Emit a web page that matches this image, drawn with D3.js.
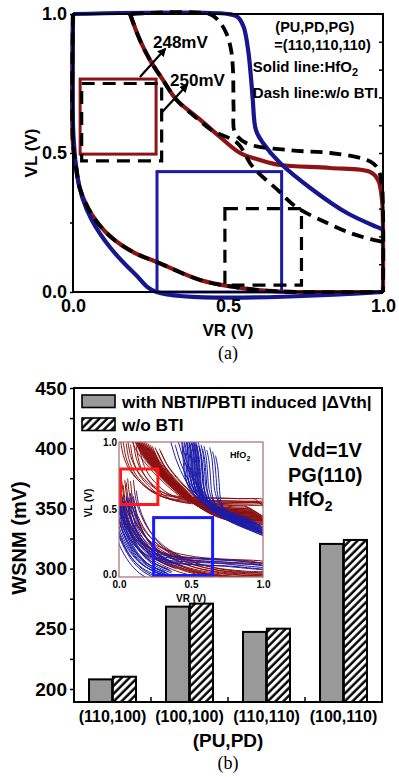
<!DOCTYPE html>
<html>
<head>
<meta charset="utf-8">
<script src="https://cdnjs.cloudflare.com/ajax/libs/d3/7.8.5/d3.min.js"></script>
<style>
  body { margin: 0; background: #fff; }
  svg text { font-family: 'Liberation Sans', Arial, sans-serif; font-weight: bold; fill: #000; }
  svg text.caption { font-family: 'Liberation Serif', 'Times New Roman', serif; font-weight: normal; }
</style>
</head>
<body>
<svg id="chart" width="399" height="777"></svg>
<script>
// ---------- (a) butterfly curves, points are [VR, VL] ----------
const redSolidUpper = [[0.184,1.0],[0.216,0.906],[0.248,0.835],[0.29,0.763],[0.335,0.69],[0.41,0.62],[0.474,0.558],[0.539,0.50],[0.603,0.475],[0.668,0.457],[0.829,0.446],[0.958,0.432],[0.984,0.403],[0.997,0.33],[1.0,0.2],[1.0,0]];
const redSolidLower = [[0,1.0],[0,0.53],[0.01,0.45],[0.023,0.37],[0.06,0.28],[0.12,0.2],[0.2,0.14],[0.27,0.108],[0.41,0.043],[0.52,0.018],[0.63,0.004],[0.72,0],[1.0,0]];
const blueSolidUpper = [[0,1.0],[0.5,1.0],[0.53,0.99],[0.55,0.955],[0.565,0.87],[0.575,0.76],[0.58,0.69],[0.59,0.583],[0.613,0.536],[0.668,0.464],[0.774,0.367],[0.884,0.284],[0.98,0.234],[1.0,0.225]];
const blueSolidLower = [[0,1.0],[0,0.6],[0.004,0.52],[0.013,0.42],[0.03,0.34],[0.06,0.26],[0.12,0.16],[0.2,0.065],[0.27,0],[1.0,0]];
const dashUpperA = [[0.19,1.0],[0.44,1.0],[0.47,0.975],[0.495,0.93],[0.51,0.87],[0.516,0.8],[0.518,0.66],[0.522,0.575],[0.56,0.535],[0.7,0.51],[0.83,0.5],[0.948,0.475],[0.98,0.45],[0.995,0.4],[1.0,0.3],[1.0,0]];
const dashUpperB = [[0.184,1.0],[0.216,0.906],[0.248,0.835],[0.29,0.763],[0.335,0.69],[0.41,0.615],[0.45,0.58],[0.53,0.536],[0.58,0.45],[0.66,0.367],[0.72,0.306],[0.82,0.248],[0.9,0.21],[0.96,0.19],[1.0,0.18]];
const dashLower = redSolidLower;

// squares as [VR0, VL0, VR1, VL1]
const redSquare = [0.023, 0.496, 0.268, 0.766];
const blueSquare = [0.271, 0, 0.673, 0.433];
const dashSquares = [[0.028, 0.472, 0.286, 0.75], [0.49, 0.025, 0.737, 0.30]];

// margin annotations: label, label anchor, arrow tail -> head
const marginNotes = [
  {label: '248mV', at: [0.258, 0.878], arrow: [[0.216, 0.773], [0.297, 0.874]]},
  {label: '250mV', at: [0.313, 0.741], arrow: [[0.287, 0.647], [0.368, 0.745]]}
];

// ---------- (b) WSNM bars ----------
const groups = ['(110,100)', '(100,100)', '(110,110)', '(100,110)'];
const series = ['with', 'without'];
const wsnmWithBTI = [208.0, 268.4, 247.4, 320.5];
const wsnmWithoutBTI = [210.2, 270.9, 250.1, 323.8];
const wsnmTicks = [200, 225, 250, 275, 300, 325, 350, 375, 400, 425, 450];

// ---------- (b) inset Monte Carlo butterflies: base curve + per-instance shift [dVR, dVL] ----------
const insetRedUpper = [[0.17,1.0],[0.22,0.89],[0.3,0.78],[0.4,0.67],[0.5,0.58],[0.6,0.52],[0.7,0.49],[0.85,0.47],[0.97,0.46],[1.0,0.43]];
const insetRedUpperShift = [[-0.07,0.04],[-0.065,0.02],[-0.06,0.05],[-0.055,0.03],[-0.05,0.01],[-0.045,0.04],[-0.04,0.02],[-0.035,0.0],[-0.03,0.03],[-0.025,0.01],[-0.02,-0.01],[-0.015,0.02],[-0.01,0.0],[-0.005,-0.02],[0,0.01],[0.005,-0.01],[0.01,-0.03],[0.015,0.0],[0.02,-0.02],[0.025,-0.04],[0.03,-0.01],[0.035,-0.03],[0.04,-0.05],[0.045,-0.02],[0.05,-0.04],[0.055,-0.06],[0.06,-0.03],[0.065,-0.05],[0.07,-0.07],[0.08,-0.04],[0.09,-0.06],[0.1,-0.08],[0.11,-0.05],[0.12,-0.07],[-0.08,0.06],[-0.09,0.03]];
const insetRedBox = [[0.03,1.0],[0.05,0.88],[0.09,0.78],[0.15,0.7],[0.23,0.63],[0.32,0.59],[0.45,0.57],[0.65,0.565],[0.85,0.56],[0.97,0.555],[1.0,0.52]];
const insetRedBoxShift = [[-0.02,0.02],[0,0],[0.02,-0.01],[0.03,0.02],[0.05,-0.02],[0.07,0.0],[0.09,-0.03],[0.11,-0.01]];
const insetRedLower = [[0,0.7],[0.02,0.54],[0.06,0.42],[0.12,0.31],[0.2,0.22],[0.3,0.15],[0.45,0.08],[0.6,0.04],[0.8,0.015],[1.0,0.008]];
const insetRedLowerShift = [[-0.04,-0.04],[-0.03,-0.01],[-0.02,-0.02],[-0.01,-0.03],[0,0],[0.005,-0.02],[0.01,-0.01],[0.02,0.01],[0.03,-0.02],[0.04,0.02],[0.05,0.0],[0.06,0.03],[0.08,0.01],[0.1,0.02]];
const insetRedTail = [[0,0.62],[0.04,0.42],[0.12,0.28],[0.25,0.2],[0.45,0.15],[0.7,0.13],[0.9,0.12],[1.0,0.1]];
const insetRedTailShift = [[0,0],[0.03,-0.02],[0.06,-0.03],[0.08,0.0]];
const insetBlueUpper = [[0.52,1.0],[0.535,0.92],[0.545,0.8],[0.555,0.68],[0.58,0.6],[0.63,0.54],[0.72,0.47],[0.84,0.41],[0.95,0.37],[1.0,0.35]];
const insetBlueUpperShift = [[-0.1,0.08],[-0.09,0.05],[-0.08,0.06],[-0.07,0.03],[-0.065,0.07],[-0.06,0.05],[-0.05,0.02],[-0.045,0.05],[-0.04,0.04],[-0.035,0.01],[-0.03,0.0],[-0.025,0.03],[-0.02,0.03],[-0.015,-0.01],[-0.01,0.01],[-0.005,0.02],[0,0],[0,-0.03],[0.005,0.01],[0.01,0.02],[0.015,-0.02],[0.02,-0.02],[0.03,0.0],[0.035,-0.03],[0.04,-0.04],[0.05,-0.02],[0.06,-0.05],[0.07,-0.03],[0.09,-0.06],[0.11,-0.04],[0.13,-0.07],[0.15,-0.1]];
const insetBlueDiag = [[0.36,1.0],[0.4,0.86],[0.46,0.72],[0.54,0.59],[0.64,0.49],[0.78,0.41],[0.92,0.35],[1.0,0.32]];
const insetBlueDiagShift = [[0,0],[0.03,-0.02],[0.05,0.01],[0.08,-0.03]];
const insetBlueLower = [[0,0.5],[0.02,0.38],[0.06,0.27],[0.12,0.16],[0.19,0.08],[0.27,0.03],[0.34,0]];
const insetBlueLowerShift = [[-0.05,-0.05],[-0.045,0.0],[-0.04,0.02],[-0.035,-0.03],[-0.03,-0.02],[-0.025,0.01],[-0.02,0.04],[-0.015,0.02],[-0.01,0],[-0.005,0.03],[0,0.06],[0.005,0.01],[0.01,0.02],[0.015,0.05],[0.02,0.08],[0.025,0.03],[0.03,0.04],[0.04,0.07],[0.05,0.1],[0.06,0.06],[0.07,0.09],[0.08,0.12],[0.1,0.08],[0.12,0.14]];
const insetBlueTail = [[0,0.58],[0.04,0.38],[0.1,0.25],[0.18,0.17],[0.3,0.13],[0.5,0.11],[0.7,0.1],[0.85,0.085],[1.0,0.07]];
const insetBlueTailShift = [[0,0],[0.02,0.03],[0.03,-0.02],[0.05,0.01],[0.08,-0.02],[0.1,0.02]];
const insetRedBoxRect = [0.0, 0.526, 0.27, 0.8];
const insetBlueBoxRect = [0.23, 0, 0.65, 0.44];

const DARK_RED = '#8e1414';
const NAVY = '#16168f';

const svg = d3.select('#chart');

// ======================= (a) =======================
const plotA = {left: 73, right: 383, top: 14, bottom: 292};
const xA = d3.scaleLinear().domain([0, 1]).range([plotA.left, plotA.right]);
const yA = d3.scaleLinear().domain([0, 1]).range([plotA.bottom, plotA.top]);
const lineA = d3.line().x(d => xA(d[0])).y(d => yA(d[1])).curve(d3.curveCatmullRom.alpha(0.5));

const gA = svg.append('g').attr('class', 'panel-a');

const sq = (g, r) => g.append('rect')
  .attr('x', xA(r[0])).attr('y', yA(r[3]))
  .attr('width', xA(r[2]) - xA(r[0])).attr('height', yA(r[1]) - yA(r[3]))
  .attr('fill', 'none');

// solid curves
[[redSolidUpper, DARK_RED], [redSolidLower, DARK_RED], [blueSolidUpper, NAVY], [blueSolidLower, NAVY]]
  .forEach(([pts, c]) => {
    gA.append('path').datum(pts)
      .attr('d', lineA)
      .attr('fill', 'none')
      .attr('stroke', c)
      .attr('stroke-width', 4.2)
      .attr('stroke-linejoin', 'round');
  });

sq(gA, redSquare).attr('stroke', DARK_RED).attr('stroke-width', 3);
sq(gA, blueSquare).attr('stroke', '#1a1aa6').attr('stroke-width', 3);

// dashed (w/o BTI) curves
[dashUpperA, dashUpperB, dashLower].forEach(pts => {
  gA.append('path').datum(pts)
    .attr('d', lineA)
    .attr('fill', 'none')
    .attr('stroke', '#000')
    .attr('stroke-width', 3.8)
    .attr('stroke-dasharray', '12,7');
});
dashSquares.forEach(r => {
  sq(gA, r).attr('stroke', '#000').attr('stroke-width', 3.2).attr('stroke-dasharray', '13,8');
});

// arrow marker
svg.append('defs').append('marker')
  .attr('id', 'arrowhead')
  .attr('viewBox', '0 0 10 10')
  .attr('refX', 8).attr('refY', 5)
  .attr('markerWidth', 4).attr('markerHeight', 4)
  .attr('orient', 'auto')
  .append('path').attr('d', 'M0,0 L10,5 L0,10 z').attr('fill', '#000');

marginNotes.forEach(n => {
  gA.append('line')
    .attr('x1', xA(n.arrow[0][0])).attr('y1', yA(n.arrow[0][1]))
    .attr('x2', xA(n.arrow[1][0])).attr('y2', yA(n.arrow[1][1]))
    .attr('stroke', '#000').attr('stroke-width', 2.2)
    .attr('marker-end', 'url(#arrowhead)');
  gA.append('text')
    .attr('x', xA(n.at[0])).attr('y', yA(n.at[1]))
    .style('font-size', '17px')
    .text(n.label);
});

// frame + axes
gA.append('rect')
  .attr('x', plotA.left).attr('y', plotA.top)
  .attr('width', plotA.right - plotA.left).attr('height', plotA.bottom - plotA.top)
  .attr('fill', 'none').attr('stroke', '#000').attr('stroke-width', 2);

const fmt1 = d3.format('.1f');
const axLeftA = gA.append('g')
  .attr('transform', `translate(${plotA.left},0)`)
  .call(d3.axisLeft(yA).tickValues([0, 0.25, 0.5, 0.75, 1]).tickSize(3).tickPadding(3)
    .tickFormat(d => (d * 2) % 1 === 0 ? fmt1(d) : ''));
const axRightA = gA.append('g')
  .attr('transform', `translate(${plotA.right},0)`)
  .call(d3.axisRight(yA).tickValues(d3.range(1, 10).map(i => i / 10)).tickSize(-4).tickFormat(''));
const axBottomA = gA.append('g')
  .attr('transform', `translate(0,${plotA.bottom})`)
  .call(d3.axisBottom(xA).tickValues([0, 0.5, 1]).tickSize(0).tickPadding(7).tickFormat(fmt1));
[axLeftA, axRightA, axBottomA].forEach(a => {
  a.select('.domain').remove();
  a.selectAll('line').attr('stroke-width', 1.5);
  a.selectAll('text').style('font-size', '18px');
  a.attr('font-family', null).attr('font-size', null);
});

gA.append('text')
  .attr('transform', `translate(37,${(plotA.top + plotA.bottom) / 2}) rotate(-90)`)
  .attr('text-anchor', 'middle')
  .style('font-size', '17px')
  .text('VL (V)');
gA.append('text')
  .attr('x', (plotA.left + plotA.right) / 2).attr('y', 336)
  .attr('text-anchor', 'middle')
  .style('font-size', '17px')
  .text('VR (V)');
gA.append('text').attr('class', 'caption')
  .attr('x', (plotA.left + plotA.right) / 2).attr('y', 359)
  .attr('text-anchor', 'middle')
  .style('font-size', '18px')
  .text('(a)');

// legend text block
gA.append('text').attr('x', xA(0.78)).attr('y', yA(0.935)).attr('text-anchor', 'middle')
  .style('font-size', '14.5px').text('(PU,PD,PG)');
gA.append('text').attr('x', xA(0.805)).attr('y', yA(0.87)).attr('text-anchor', 'middle')
  .style('font-size', '14.5px').text('=(110,110,110)');
const solidTxt = gA.append('text').attr('x', xA(0.58)).attr('y', yA(0.79)).style('font-size', '15px');
solidTxt.append('tspan').text('Solid line:HfO');
solidTxt.append('tspan').attr('dy', 4).style('font-size', '11px').text('2');
gA.append('text').attr('x', xA(0.58)).attr('y', yA(0.698)).style('font-size', '15px')
  .text('Dash line:w/o BTI');

// ======================= (b) =======================
const plotB = {left: 74, right: 382, top: 388, bottom: 702};
const x0 = d3.scaleBand().domain(groups).range([plotB.left, plotB.right]).padding(0);
const x1 = d3.scaleBand().domain(series)
  .range([x0.bandwidth() * 0.195, x0.bandwidth() * 0.805]).paddingInner(0.03);
const yB = d3.scaleLinear().domain([189.2, 450]).range([plotB.bottom, plotB.top]);

const gB = svg.append('g').attr('class', 'panel-b');

const defs = svg.select('defs');
const hatch = defs.append('pattern')
  .attr('id', 'hatch')
  .attr('patternUnits', 'userSpaceOnUse')
  .attr('width', 5.5).attr('height', 5.5)
  .attr('patternTransform', 'rotate(45)');
hatch.append('rect').attr('width', 5.5).attr('height', 5.5).attr('fill', '#fff');
hatch.append('line').attr('x1', 1.5).attr('y1', 0).attr('x2', 1.5).attr('y2', 5.5)
  .attr('stroke', '#000').attr('stroke-width', 2.4);

const barRows = groups.map((g, i) => ({group: g, values: [
  {key: 'with', v: wsnmWithBTI[i]},
  {key: 'without', v: wsnmWithoutBTI[i]}
]}));

gB.selectAll('g.grp')
  .data(barRows)
  .enter().append('g')
    .attr('class', 'grp')
    .attr('transform', d => `translate(${x0(d.group)},0)`)
  .selectAll('rect')
  .data(d => d.values)
  .enter().append('rect')
    .attr('x', d => x1(d.key))
    .attr('y', d => yB(d.v))
    .attr('width', x1.bandwidth())
    .attr('height', d => plotB.bottom - yB(d.v))
    .attr('fill', d => d.key === 'with' ? '#999' : 'url(#hatch)')
    .attr('stroke', '#000')
    .attr('stroke-width', 2);

gB.append('rect')
  .attr('x', plotB.left).attr('y', plotB.top)
  .attr('width', plotB.right - plotB.left).attr('height', plotB.bottom - plotB.top)
  .attr('fill', 'none').attr('stroke', '#000').attr('stroke-width', 2);

const axLeftB = gB.append('g')
  .attr('transform', `translate(${plotB.left},0)`)
  .call(d3.axisLeft(yB).tickValues(wsnmTicks).tickSize(4).tickPadding(3)
    .tickFormat(d => d % 50 === 0 ? d : ''));
const axBottomB = gB.append('g')
  .attr('transform', `translate(0,${plotB.bottom})`)
  .call(d3.axisBottom(x0).tickSize(0).tickPadding(9));
// group boundary ticks
gB.append('g')
  .selectAll('line')
  .data(groups.slice(1))
  .enter().append('line')
    .attr('x1', d => x0(d)).attr('x2', d => x0(d))
    .attr('y1', plotB.bottom).attr('y2', plotB.bottom - 5)
    .attr('stroke', '#000').attr('stroke-width', 1.5);
[axLeftB, axBottomB].forEach(a => {
  a.select('.domain').remove();
  a.selectAll('line').attr('stroke-width', 1.5);
  a.attr('font-family', null).attr('font-size', null);
});
axLeftB.selectAll('text').style('font-size', '19px');
axBottomB.selectAll('text').style('font-size', '16px');

gB.append('text')
  .attr('transform', `translate(26,538) rotate(-90)`)
  .attr('text-anchor', 'middle')
  .style('font-size', '20px')
  .text('WSNM (mV)');
gB.append('text')
  .attr('x', (plotB.left + plotB.right) / 2).attr('y', 747)
  .attr('text-anchor', 'middle')
  .style('font-size', '19px')
  .text('(PU,PD)');
gB.append('text').attr('class', 'caption')
  .attr('x', (plotB.left + plotB.right) / 2).attr('y', 769)
  .attr('text-anchor', 'middle')
  .style('font-size', '18px')
  .text('(b)');

// legend
const legendRows = [
  {fill: '#999', label: 'with NBTI/PBTI induced |\u0394Vth|'},
  {fill: 'url(#hatch)', label: 'w/o BTI'}
];
const lg = gB.append('g').attr('transform', 'translate(82,395)');
lg.selectAll('rect')
  .data(legendRows)
  .enter().append('rect')
    .attr('x', 0).attr('y', (d, i) => i * 23)
    .attr('width', 33).attr('height', 12.5)
    .attr('fill', d => d.fill)
    .attr('stroke', '#000').attr('stroke-width', 1.6);
lg.selectAll('text')
  .data(legendRows)
  .enter().append('text')
    .attr('x', 40).attr('y', (d, i) => 13 + i * 23)
    .style('font-size', '17.3px')
    .text(d => d.label);

// conditions text
const cond = gB.append('g').attr('transform', 'translate(288,0)');
cond.append('text').attr('y', 457).style('font-size', '20px').text('Vdd=1V');
cond.append('text').attr('y', 482).style('font-size', '20px').text('PG(110)');
const hf = cond.append('text').attr('y', 506).style('font-size', '20px');
hf.append('tspan').text('HfO');
hf.append('tspan').attr('dy', 5).style('font-size', '14px').text('2');

// ---------- inset ----------
const plotI = {left: 119, right: 263, top: 442, bottom: 577};
const xI = d3.scaleLinear().domain([0, 1]).range([plotI.left, plotI.right]);
const yI = d3.scaleLinear().domain([0, 1]).range([plotI.bottom, plotI.top]);
const lineI = d3.line().x(d => xI(d[0])).y(d => yI(d[1])).curve(d3.curveCatmullRom.alpha(0.5));

const gI = svg.append('g').attr('class', 'inset');
gI.append('rect')
  .attr('x', plotI.left).attr('y', plotI.top)
  .attr('width', plotI.right - plotI.left).attr('height', plotI.bottom - plotI.top)
  .attr('fill', '#fff');
defs.append('clipPath').attr('id', 'inset-clip')
  .append('rect')
  .attr('x', plotI.left).attr('y', plotI.top)
  .attr('width', plotI.right - plotI.left).attr('height', plotI.bottom - plotI.top);

const curvesI = gI.append('g').attr('clip-path', 'url(#inset-clip)');
const family = (base, shifts, color) => {
  curvesI.append('g')
    .selectAll('path')
    .data(shifts.map(s => base.map(p => [p[0] + s[0], p[1] + s[1]])))
    .enter().append('path')
      .attr('d', lineI)
      .attr('fill', 'none')
      .attr('stroke', color)
      .attr('stroke-width', 1);
};
family(insetRedLower, insetRedLowerShift, '#8c0f0f');
family(insetRedTail, insetRedTailShift, '#8c0f0f');
family(insetBlueLower, insetBlueLowerShift, '#1c1ca8');
family(insetBlueTail, insetBlueTailShift, '#1c1ca8');
family(insetRedUpper, insetRedUpperShift, '#8c0f0f');
family(insetRedBox, insetRedBoxShift, '#8c0f0f');
family(insetBlueUpper, insetBlueUpperShift, '#1c1ca8');
family(insetBlueDiag, insetBlueDiagShift, '#1c1ca8');

const boxI = (r, c) => gI.append('rect')
  .attr('x', xI(r[0]) + 1.5).attr('y', yI(r[3]))
  .attr('width', xI(r[2]) - xI(r[0]) - 1.5).attr('height', yI(r[1]) - yI(r[3]) - 1.5)
  .attr('fill', 'none').attr('stroke', c).attr('stroke-width', 3);
boxI(insetRedBoxRect, '#ff1a1a');
boxI(insetBlueBoxRect, '#1a1aff');

gI.append('rect')
  .attr('x', plotI.left).attr('y', plotI.top)
  .attr('width', plotI.right - plotI.left).attr('height', plotI.bottom - plotI.top)
  .attr('fill', 'none').attr('stroke', '#a86c6c').attr('stroke-width', 1.2);

const axLeftI = gI.append('g')
  .attr('transform', `translate(${plotI.left},0)`)
  .call(d3.axisLeft(yI).tickValues([0, 0.5, 1]).tickSize(0).tickPadding(2).tickFormat(fmt1));
const axBottomI = gI.append('g')
  .attr('transform', `translate(0,${plotI.bottom})`)
  .call(d3.axisBottom(xI).tickValues([0, 0.5, 1]).tickSize(0).tickPadding(4).tickFormat(fmt1));
[axLeftI, axBottomI].forEach(a => {
  a.select('.domain').remove();
  a.attr('font-family', null).attr('font-size', null);
  a.selectAll('text').style('font-size', '10px');
});
axLeftI.selectAll('text').attr('dy', (d, i) => d === 0 ? '0' : '0.32em');
gI.append('text')
  .attr('x', (plotI.left + plotI.right) / 2).attr('y', 602)
  .attr('text-anchor', 'middle').style('font-size', '10px').text('VR (V)');
gI.append('text')
  .attr('transform', `translate(92,503) rotate(-90)`)
  .attr('text-anchor', 'middle').style('font-size', '10px').text('VL (V)');
const hfI = gI.append('text').attr('x', xI(0.77)).attr('y', yI(0.88)).style('font-size', '9px');
hfI.append('tspan').text('HfO');
hfI.append('tspan').attr('dy', 2.5).style('font-size', '7px').text('2');
</script>
</body>
</html>
